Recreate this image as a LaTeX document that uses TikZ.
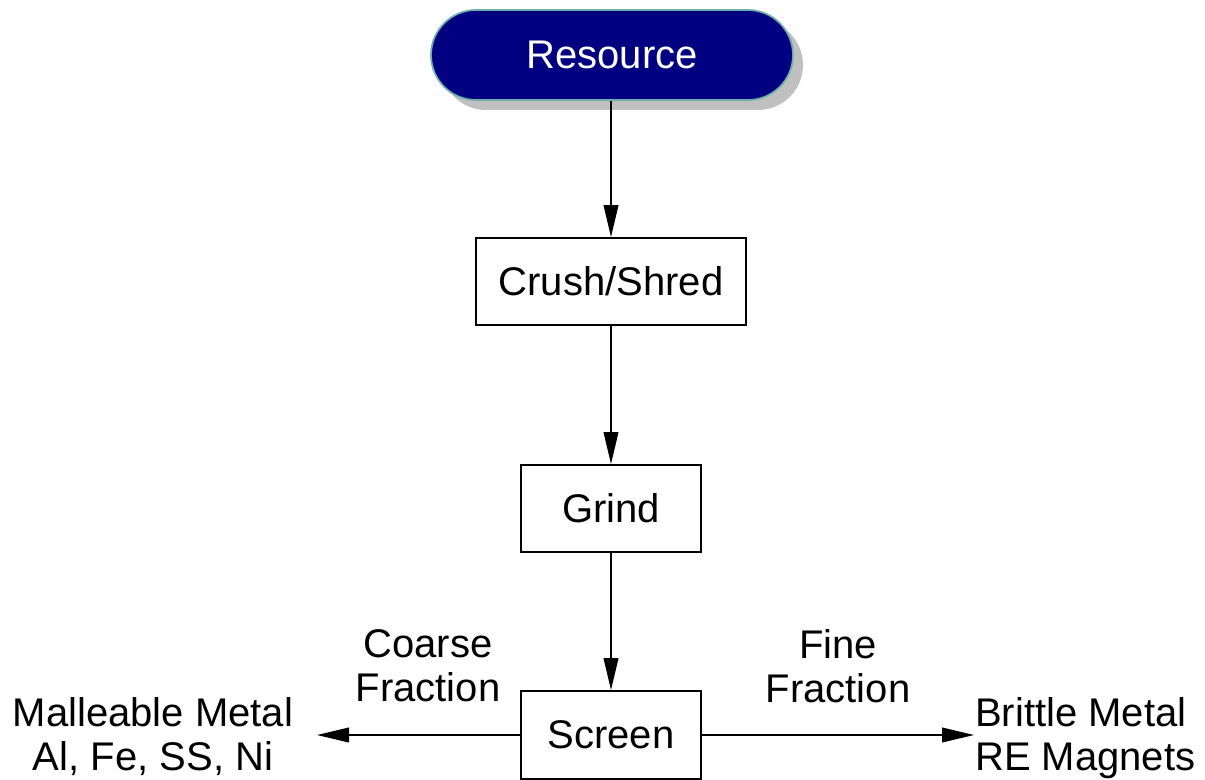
\documentclass[tikz,border=0pt]{standalone}
\usepackage{fontspec}
\setmainfont{Liberation Sans}
\usetikzlibrary{arrows.meta,shadows}
\definecolor{pillfill}{RGB}{0,0,128}
\definecolor{pillrim}{RGB}{110,175,170}
\definecolor{shadowgray}{RGB}{192,192,192}
\tikzset{
  lbl/.style={font=\fontsize{30}{33}\selectfont, inner sep=0pt, align=center},
  procbox/.style={draw=black, line width=1.4pt, fill=white, inner sep=0pt,
    font=\fontsize{30}{33}\selectfont, minimum height=65.25pt},
  pill/.style={draw=pillrim, line width=1.3pt, fill=pillfill, text=white,
    rounded corners=33.75pt, inner sep=0pt, minimum width=271.5pt,
    minimum height=67.5pt, font=\fontsize{30}{33}\selectfont,
    drop shadow={shadow xshift=7.5pt, shadow yshift=-7.5pt, fill=shadowgray, opacity=1}},
  flow/.style={line width=1.3pt, -{Triangle[length=24pt,width=11pt]}}
}
\begin{document}
\begin{tikzpicture}[x=0.75pt,y=-0.75pt]
  \useasboundingbox (0,0) rectangle (1205,780);

  % process chain
  \node[pill] (res) at (612,55) {Resource};
  \node[procbox, minimum width=202.5pt] (crush) at (611,281.5) {Crush/Shred};
  \node[procbox, minimum width=135pt] (grind) at (611,508.5) {Grind};
  \node[procbox, minimum width=135pt, minimum height=66pt] (screen) at (611,735) {Screen};

  % product ends
  \coordinate (coarseend) at (317,735);
  \coordinate (fineend) at (974,735);

  \draw[flow] (res.south -| crush.north) -- (crush.north);
  \draw[flow] (crush) -- (grind);
  \draw[flow] (grind) -- (screen);
  \draw[flow] (screen.west) -- (coarseend);
  \draw[flow] (screen.east) -- (fineend);

  % labels
  \node[lbl, anchor=north] (coarse) at (428,629) {Coarse\\Fraction};
  \node[lbl, anchor=north] (fine) at (838,629) {Fine\\Fraction};
  \node[lbl, anchor=north] (mall) at (153,697) {Malleable Metal\\Al, Fe, SS, Ni};
  \node[lbl, anchor=north west, align=left] (brit) at (975,697) {Brittle Metal\\RE Magnets};
\end{tikzpicture}
\end{document}
